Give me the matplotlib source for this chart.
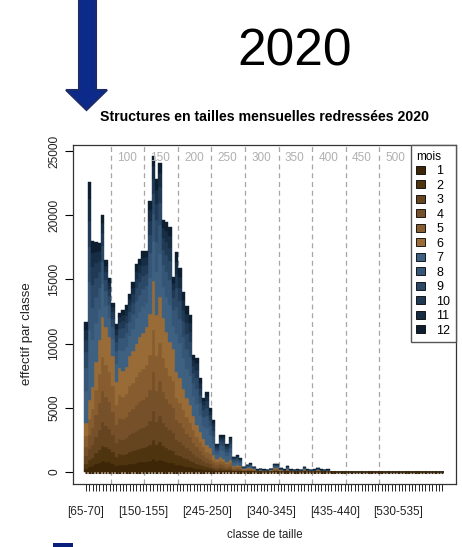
import numpy as np
import matplotlib.pyplot as plt
from matplotlib.patches import Polygon, Rectangle, Patch

plt.rcParams['font.family'] = ['Liberation Sans', 'DejaVu Sans']

# classes de taille (borne basse), de [65-70] a [595-600]
classes_min = list(range(65, 600, 5))
# classes dont l'etiquette est affichee sur l'axe
classes_etiquetees = [65, 150, 245, 340, 435, 530]
# tailles de reference (lignes verticales)
tailles_ref = [100, 150, 200, 250, 300, 350, 400, 450, 500]

# effectifs mensuels redresses par classe (classes 65 a 425, ensuite 0)
mois_1 = [270, 390, 460, 600, 720, 850, 790, 740, 630, 490, 570, 550, 570, 630, 660, 700, 740, 760, 790, 860,
          1040, 850, 950, 840, 760, 710, 670, 550, 510, 460, 400, 360, 310, 260, 220, 180, 150, 130, 90, 70,
          80, 70, 60, 60, 40, 40, 40, 20, 20, 20, 20, 10, 10, 10, 10, 10, 20, 20, 10, 10,
          10, 10, 10, 10, 10, 10, 10, 10, 10, 10, 10, 10, 10]
mois_2 = [380, 560, 660, 860, 1030, 1210, 1130, 1050, 900, 700, 810, 790, 820, 900, 940, 1000, 1050, 1080, 1130, 1230,
          1490, 1220, 1360, 1200, 1090, 1010, 960, 780, 730, 650, 580, 520, 440, 370, 310, 260, 210, 190, 130, 100,
          120, 100, 80, 90, 50, 60, 50, 30, 30, 40, 30, 10, 20, 10, 10, 20, 30, 30, 20, 10,
          20, 10, 10, 10, 10, 20, 10, 10, 10, 20, 10, 10, 10]
mois_3 = [570, 840, 990, 1290, 1550, 1820, 1700, 1580, 1350, 1050, 1220, 1190, 1230, 1350, 1410, 1500, 1580, 1620, 1700, 1850,
          2240, 1830, 2040, 1800, 1640, 1520, 1440, 1170, 1100, 980, 860, 780, 660, 550, 470, 390, 320, 280, 200, 150,
          180, 150, 120, 140, 80, 80, 80, 40, 50, 50, 40, 20, 20, 20, 20, 20, 50, 50, 20, 20,
          30, 20, 20, 20, 20, 30, 20, 20, 20, 20, 20, 20, 20]
mois_4 = [760, 1120, 1320, 1720, 2060, 2420, 2260, 2100, 1800, 1400, 1620, 1580, 1640, 1800, 1880, 2000, 2100, 2160, 2260, 2460,
          2980, 2440, 2720, 2400, 2180, 2020, 1920, 1560, 1460, 1300, 1150, 1040, 880, 730, 620, 520, 420, 370, 260, 200,
          240, 200, 160, 180, 100, 110, 100, 50, 60, 70, 50, 20, 30, 20, 20, 30, 60, 60, 30, 20,
          40, 20, 20, 20, 20, 40, 20, 20, 20, 30, 20, 20, 20]
mois_5 = [840, 1230, 1450, 1890, 2270, 2660, 2490, 2310, 1980, 1540, 1780, 1740, 1800, 1980, 2070, 2200, 2310, 2380, 2490, 2710,
          3280, 2680, 2990, 2640, 2400, 2220, 2110, 1720, 1610, 1430, 1270, 1140, 970, 800, 680, 570, 460, 410, 290, 220,
          260, 220, 180, 200, 110, 120, 110, 50, 60, 80, 50, 20, 30, 20, 20, 30, 60, 60, 30, 20,
          40, 20, 20, 20, 20, 40, 20, 20, 20, 30, 20, 20, 20]
mois_6 = [980, 1460, 1720, 2240, 2670, 3140, 2930, 2720, 2340, 1820, 2100, 2050, 2140, 2340, 2440, 2600, 2720, 2800, 2930, 3190,
          3870, 3180, 3540, 3120, 2830, 2620, 2500, 2020, 1890, 1680, 1490, 1360, 1140, 940, 800, 680, 540, 470, 330, 260,
          320, 260, 200, 230, 120, 140, 120, 60, 80, 90, 60, 20, 40, 20, 20, 40, 80, 80, 40, 20,
          60, 20, 20, 20, 20, 60, 20, 20, 20, 40, 20, 20, 20]
mois_7 = [2530, 5440, 3650, 2980, 2400, 2530, 1660, 1470, 1340, 1440, 1380, 1500, 1540, 1570, 1730, 1980, 1950, 2050, 1890, 2820,
          3100, 3390, 3360, 2430, 2750, 2880, 1790, 2980, 2750, 2400, 2290, 2240, 1500, 1680, 1340, 1020, 1330, 1010, 880, 380,
          540, 610, 450, 590, 220, 240, 180, 50, 80, 110, 50, 30, 30, 30, 20, 30, 100, 100, 50, 30,
          80, 30, 20, 30, 20, 60, 30, 20, 30, 50, 30, 20, 30]
mois_8 = [1740, 3740, 2510, 2050, 1650, 1740, 1140, 1010, 920, 990, 950, 1030, 1060, 1080, 1190, 1360, 1340, 1410, 1300, 1940,
          2130, 2330, 2310, 1670, 1890, 1980, 1230, 2050, 1890, 1650, 1570, 1540, 1030, 1160, 920, 700, 910, 690, 610, 260,
          370, 420, 310, 410, 150, 170, 130, 40, 60, 70, 40, 20, 20, 20, 10, 20, 70, 70, 30, 20,
          60, 20, 10, 20, 10, 40, 20, 10, 20, 30, 20, 10, 20]
mois_9 = [1260, 2720, 1820, 1490, 1200, 1260, 830, 740, 670, 720, 690, 750, 770, 780, 860, 990, 980, 1020, 940, 1410,
          1550, 1700, 1680, 1220, 1380, 1440, 900, 1490, 1380, 1200, 1140, 1120, 750, 840, 670, 510, 660, 500, 440, 190,
          270, 300, 220, 300, 110, 120, 90, 30, 40, 50, 30, 20, 20, 20, 10, 20, 50, 50, 20, 20,
          40, 20, 10, 20, 10, 30, 20, 10, 20, 20, 20, 10, 20]
mois_10 = [950, 2040, 1370, 1120, 900, 950, 620, 550, 500, 540, 520, 560, 580, 590, 650, 740, 730, 770, 710, 1060,
           1160, 1270, 1260, 910, 1030, 1080, 670, 1120, 1030, 900, 860, 840, 560, 630, 500, 380, 500, 380, 330, 150,
           210, 230, 170, 220, 90, 90, 70, 20, 30, 40, 20, 10, 10, 10, 10, 10, 40, 40, 20, 10,
           30, 10, 10, 10, 10, 30, 10, 10, 10, 20, 10, 10, 10]
mois_11 = [790, 1700, 1140, 930, 750, 790, 520, 460, 420, 450, 430, 470, 480, 490, 540, 620, 610, 640, 590, 880,
           970, 1060, 1050, 760, 860, 900, 560, 930, 860, 750, 720, 700, 470, 520, 420, 320, 420, 320, 270, 120,
           170, 190, 140, 190, 70, 70, 60, 20, 20, 30, 20, 10, 10, 10, 0, 10, 30, 30, 20, 10,
           20, 10, 0, 10, 0, 20, 10, 0, 10, 20, 10, 0, 10]
mois_12 = [630, 1360, 910, 740, 600, 630, 430, 370, 350, 360, 330, 390, 370, 390, 430, 510, 490, 510, 470, 690,
           790, 850, 840, 610, 690, 720, 450, 730, 690, 600, 570, 560, 390, 420, 350, 270, 330, 250, 220, 100,
           140, 150, 110, 140, 60, 60, 40, 10, 20, 30, 10, 10, 10, 10, 0, 10, 10, 10, 10, 10,
           20, 10, 0, 10, 0, 20, 10, 0, 10, 10, 10, 0, 10]

mois = [mois_1, mois_2, mois_3, mois_4, mois_5, mois_6,
        mois_7, mois_8, mois_9, mois_10, mois_11, mois_12]
couleurs = ['#3d2608', '#4f3410', '#654420', '#765029', '#875d2f', '#996c37',
            '#3e6182', '#355676', '#2b4867', '#203a56', '#162d44', '#0c1e30']

W, H = 462, 547
fig = plt.figure(figsize=(W / 100, H / 100), dpi=100)
ax = fig.add_axes([73 / W, 1 - 484 / H, 383 / W, 339 / H])

n = len(classes_min)
x = np.arange(n)
bottom = np.zeros(n)
for k, vals in enumerate(mois):
    v = np.zeros(n)
    v[:len(vals)] = vals
    ax.bar(x, v, bottom=bottom, width=1.0, color=couleurs[k],
           edgecolor=couleurs[k], linewidth=0.3, zorder=2)
    bottom += v
# bordure des barres au niveau 0
ax.hlines(np.zeros(n), x - 0.38, x + 0.38, color=couleurs[0], lw=2.2, zorder=3)

# lignes de tailles de reference
for s in tailles_ref:
    xi = (s - classes_min[0]) / 5 + 0.3
    ax.axvline(xi, color='#a6a6a6', ls=(0, (4, 3)), lw=0.9, zorder=1)
    ax.text(xi + 4.8, 24450, str(s), color='#b0b0b0', fontsize=8.5,
            ha='center', va='center')

ax.set_xlim(-3.87, 110.1)
ax.set_ylim(-935, 25470)

ax.set_yticks([0, 5000, 10000, 15000, 20000, 25000])
ax.set_yticklabels(['0', '5000', '10000', '15000', '20000', '25000'],
                   rotation=90, va='center', fontsize=8.6, color='#222222')
ax.set_xticks(x)
etiq = ['[%d-%d]' % (c, c + 5) if c in classes_etiquetees else '' for c in classes_min]
ax.set_xticklabels(etiq, fontsize=8.5, color='#222222')
ax.tick_params(axis='y', length=6, width=0.8, pad=3)
ax.tick_params(axis='x', length=5, width=0.6, pad=11)
for sp in ax.spines.values():
    sp.set_color('#333333')
    sp.set_linewidth(0.9)

handles = [Patch(facecolor=c, edgecolor='black', linewidth=0.6) for c in couleurs]
leg = ax.legend(handles, [str(i + 1) for i in range(12)], title='mois',
                loc='upper right', bbox_to_anchor=(1.0, 1.0), borderaxespad=0,
                frameon=True, fancybox=False, edgecolor='#555555', framealpha=1,
                fontsize=9, title_fontsize=8.5, handlelength=0.7, handleheight=0.65,
                handletextpad=0.9, labelspacing=0.2, borderpad=0.45, alignment='left')
leg.get_frame().set_linewidth(1.0)

fig.text(264 / W, 1 - 117 / H, 'Structures en tailles mensuelles redressées 2020',
         fontsize=10.2, fontweight='bold', ha='center', va='center')
fig.text(295 / W, 1 - 52 / H, '2020', fontsize=37, ha='center', va='center')
fig.text(265 / W, 1 - 535 / H, 'classe de taille', fontsize=8.3, ha='center',
         va='center', color='#222222')
fig.text(27 / W, 1 - 334 / H, 'effectif par classe', fontsize=9.5, ha='center',
         va='center', rotation=90, color='#222222')

# fleche bleue
fleche = [(79, -5), (96, -5), (96, 90), (107, 90), (86.5, 110), (66, 90), (79, 90)]
fig.patches.append(Polygon([(px / W, 1 - py / H) for px, py in fleche], closed=True,
                           facecolor='#0b2a8a', edgecolor='#1a2c6c', lw=1.5,
                           transform=fig.transFigure, figure=fig))
fig.patches.append(Rectangle((53 / W, 0), 20 / W, 4 / H, facecolor='#0a1f7a',
                             edgecolor='none', transform=fig.transFigure, figure=fig))

fig.savefig('out.png', dpi=100)
